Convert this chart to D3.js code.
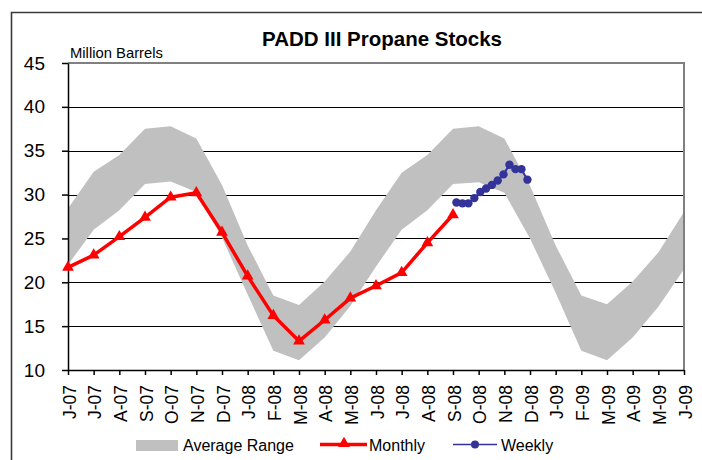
<!DOCTYPE html>
<html>
<head>
<meta charset="utf-8">
<script src="https://cdn.jsdelivr.net/npm/d3@7"></script>
<style>
  html, body { margin: 0; padding: 0; background: #fff; }
  svg { display: block; font-family: "Liberation Sans", Arial, sans-serif; }
</style>
</head>
<body>
<script>

// month labels Jun-07 .. Jun-09
var monthLabels = ['J-07','J-07','A-07','S-07','O-07','N-07','D-07','J-08','F-08','M-08','A-08','M-08',
                   'J-08','J-08','A-08','S-08','O-08','N-08','D-08','J-09','F-09','M-09','A-09','M-09','J-09'];

// average range band (upper / lower)
var rangeHigh = [28.4,32.6,34.5,37.5,37.8,36.4,31.1,24.2,18.5,17.4,20.1,23.5,
                 28.2,32.5,34.5,37.5,37.8,36.4,31.0,24.2,18.5,17.5,20.1,23.4,28.0];
var rangeLow  = [22.0,26.0,28.2,31.2,31.5,30.3,25.1,18.6,12.2,11.1,13.7,17.3,
                 21.8,26.0,28.2,31.2,31.4,30.2,25.0,18.8,12.2,11.1,13.7,17.2,21.5];

// monthly stocks, Jun-07 .. Sep-08
var monthly = [21.7,23.1,25.2,27.4,29.7,30.2,25.7,20.7,16.2,13.3,15.7,18.2,19.6,21.1,24.5,27.7];

// weekly stocks
var weeklyDates = ['2008-09-05','2008-09-12','2008-09-19','2008-09-26','2008-10-03','2008-10-10',
                   '2008-10-17','2008-10-24','2008-10-31','2008-11-07','2008-11-14','2008-11-21','2008-11-28'];
var weeklyValues = [29.1,29.0,29.0,29.6,30.3,30.7,31.1,31.6,32.3,33.4,32.9,32.9,31.7];

var yTicks = [10,15,20,25,30,35,40,45];

var Chart = {

  svg: null,
  left: 68, right: 684, top: 63, bottom: 370,

  init: function () {

    this.svg = d3.select('body').append('svg')
      .attr('width', 702)
      .attr('height', 460);

    this.x = d3.scaleLinear().domain([0, monthLabels.length - 1]).range([this.left, this.right]);
    this.y = d3.scaleLinear().domain([10, 45]).range([this.bottom, this.top]);

    // outer frame
    this.svg.append('path')
      .attr('d', 'M11.5,460 V12.5 H702')
      .style('fill', 'none')
      .style('stroke', '#3a3a3a')
      .style('stroke-width', 1.6);

    this.drawGrid();
    this.drawBand();
    this.drawAxes();
    this.drawMonthly();
    this.drawWeekly();
    this.drawTexts();
    this.drawLegend();
  },

  // fractional month position of a date, counted from Jun-07
  monthPos: function (s) {
    var d = d3.timeParse('%Y-%m-%d')(s);
    var days = new Date(d.getFullYear(), d.getMonth() + 1, 0).getDate();
    return (d.getFullYear() - 2007) * 12 + d.getMonth() - 5 + (d.getDate() - 1) / days;
  },

  drawGrid: function () {
    var y = this.y;
    this.svg.append('g').selectAll('line')
      .data(yTicks.filter(function (t) { return t > 10 && t < 45; }))
      .enter().append('line')
      .attr('x1', this.left).attr('x2', this.right)
      .attr('y1', function (d) { return Math.round(y(d)) + 0.5; })
      .attr('y2', function (d) { return Math.round(y(d)) + 0.5; })
      .style('stroke', '#000')
      .style('stroke-width', 1);
  },

  drawBand: function () {
    var x = this.x, y = this.y;
    var area = d3.area()
      .x(function (d, i) { return x(i); })
      .y0(function (d, i) { return y(rangeLow[i]); })
      .y1(function (d) { return y(d); });

    this.svg.append('path')
      .datum(rangeHigh)
      .attr('d', area)
      .style('fill', '#c0c0c0');
  },

  drawAxes: function () {
    var x = this.x, y = this.y;

    // plot border (top + right)
    this.svg.append('path')
      .attr('d', 'M' + this.left + ',' + this.top + ' H' + this.right + ' V' + this.bottom)
      .style('fill', 'none')
      .style('stroke', '#808080')
      .style('stroke-width', 2);

    var yAxis = this.svg.append('g')
      .attr('transform', 'translate(' + this.left + ',0)')
      .call(d3.axisLeft(y).tickValues(yTicks).tickSize(6).tickSizeOuter(0).tickPadding(17));
    yAxis.selectAll('text').style('font-size', '19px').style('fill', '#000')
      .attr('font-family', null);
    yAxis.selectAll('line, path').style('stroke', '#000').style('stroke-width', 1.5);

    var xAxis = this.svg.append('g')
      .attr('transform', 'translate(0,' + this.bottom + ')')
      .call(d3.axisBottom(x).tickValues(d3.range(monthLabels.length))
        .tickFormat(function (i) { return monthLabels[i]; })
        .tickSize(5).tickSizeOuter(0));
    xAxis.selectAll('line, path').style('stroke', '#000').style('stroke-width', 1.5);
    xAxis.selectAll('text')
      .attr('font-family', null)
      .style('font-size', '17.5px')
      .style('fill', '#000')
      .attr('text-anchor', 'end')
      .attr('y', 0)
      .attr('dy', '0.36em')
      .attr('transform', 'translate(1,15) rotate(-90)');
  },

  drawMonthly: function () {
    var x = this.x, y = this.y;
    var line = d3.line()
      .x(function (d, i) { return x(i); })
      .y(function (d) { return y(d); });

    this.svg.append('path')
      .datum(monthly)
      .attr('d', line)
      .style('fill', 'none')
      .style('stroke', '#ff0000')
      .style('stroke-width', 3.5)
      .style('stroke-linejoin', 'round');

    this.svg.append('g').selectAll('path')
      .data(monthly)
      .enter().append('path')
      .attr('d', d3.symbol().type(d3.symbolTriangle).size(60))
      .attr('transform', function (d, i) { return 'translate(' + x(i) + ',' + y(d) + ')'; })
      .style('fill', '#ff0000');
  },

  drawWeekly: function () {
    var x = this.x, y = this.y, self = this;
    var pts = weeklyDates.map(function (s, i) {
      return { p: self.monthPos(s), v: weeklyValues[i] };
    });

    this.svg.append('path')
      .datum(pts)
      .attr('d', d3.line()
        .x(function (d) { return x(d.p); })
        .y(function (d) { return y(d.v); }))
      .style('fill', 'none')
      .style('stroke', '#333399')
      .style('stroke-width', 2);

    this.svg.append('g').selectAll('circle')
      .data(pts)
      .enter().append('circle')
      .attr('cx', function (d) { return x(d.p); })
      .attr('cy', function (d) { return y(d.v); })
      .attr('r', 4.2)
      .style('fill', '#333399');
  },

  drawTexts: function () {
    this.svg.append('text')
      .attr('x', 382).attr('y', 46)
      .attr('text-anchor', 'middle')
      .style('font-size', '20.5px')
      .style('font-weight', 'bold')
      .text('PADD III Propane Stocks');

    this.svg.append('text')
      .attr('x', 70).attr('y', 57.5)
      .style('font-size', '14.8px')
      .text('Million Barrels');
  },

  drawLegend: function () {
    var lg = this.svg.append('g').style('font-size', '16px');

    lg.append('rect')
      .attr('x', 136).attr('y', 440).attr('width', 42).attr('height', 11)
      .style('fill', '#c0c0c0');
    lg.append('text').attr('x', 183).attr('y', 451).text('Average Range');

    lg.append('line')
      .attr('x1', 320).attr('x2', 367).attr('y1', 444.5).attr('y2', 444.5)
      .style('stroke', '#ff0000').style('stroke-width', 3.5);
    lg.append('path')
      .attr('d', d3.symbol().type(d3.symbolTriangle).size(60))
      .attr('transform', 'translate(344,443.5)')
      .style('fill', '#ff0000');
    lg.append('text').attr('x', 369).attr('y', 451).text('Monthly');

    lg.append('line')
      .attr('x1', 453).attr('x2', 497).attr('y1', 444.5).attr('y2', 444.5)
      .style('stroke', '#333399').style('stroke-width', 1.5);
    lg.append('circle')
      .attr('cx', 475).attr('cy', 444.5).attr('r', 4)
      .style('fill', '#333399');
    lg.append('text').attr('x', 501).attr('y', 451).text('Weekly');
  }
};

Chart.init();
</script>
</body>
</html>
